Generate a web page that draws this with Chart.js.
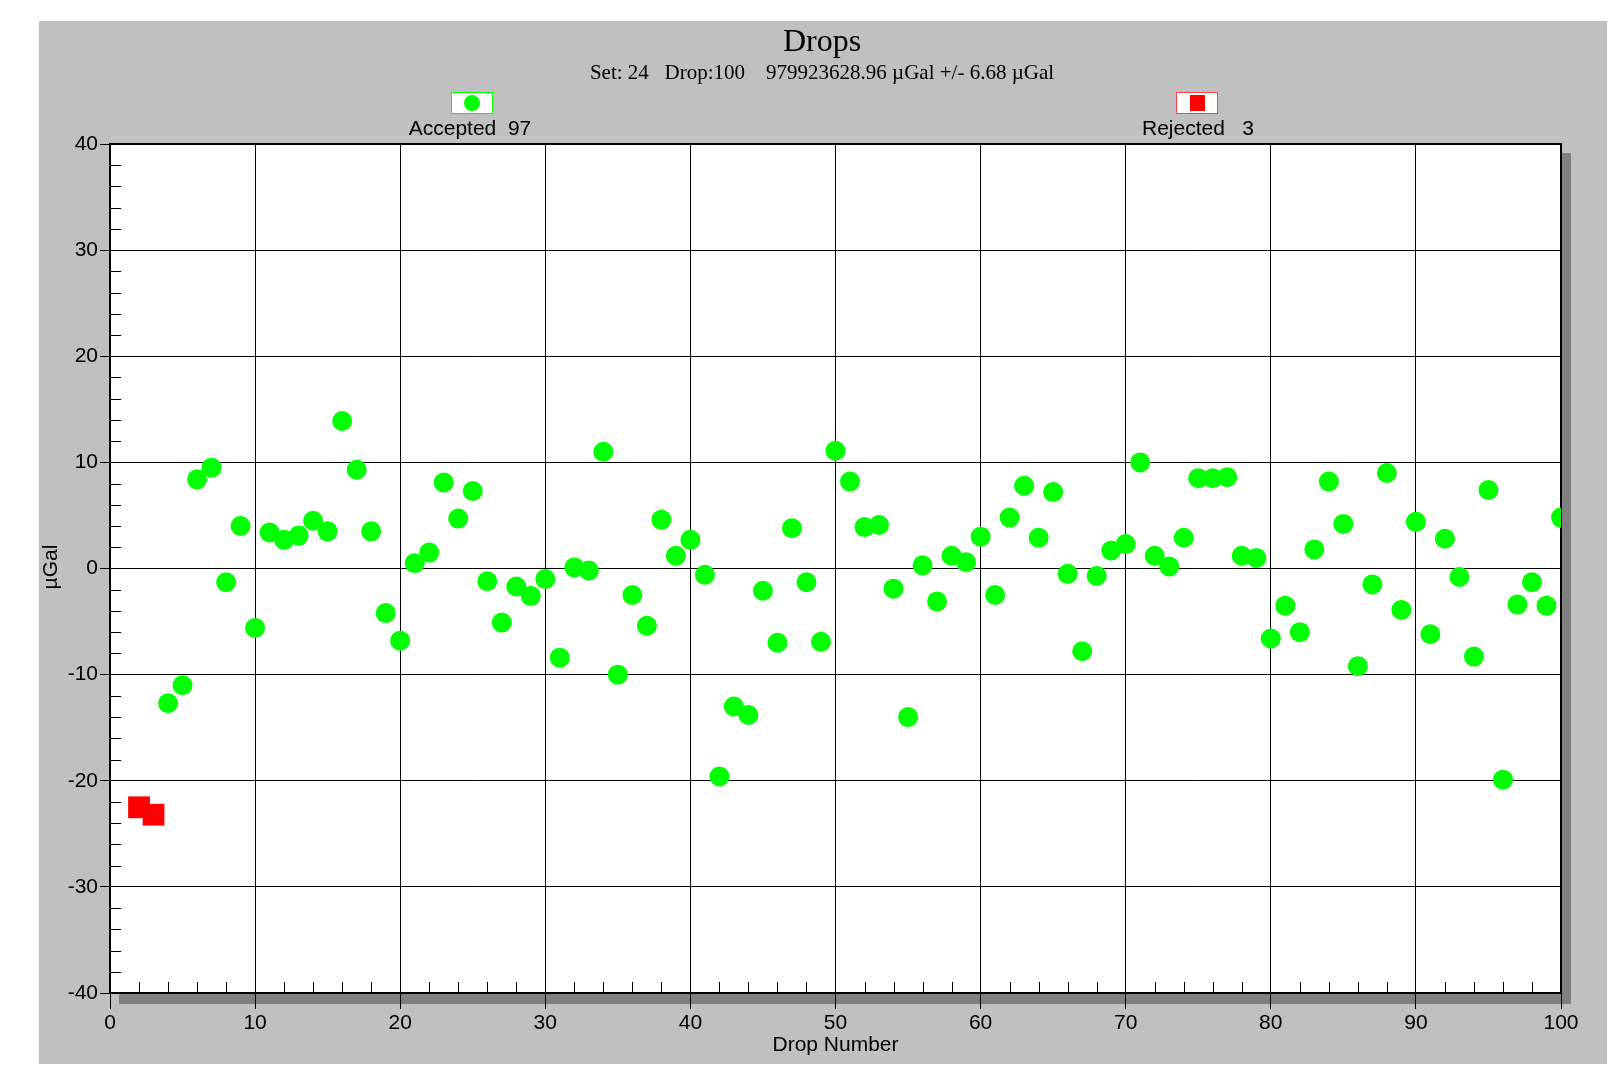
<!DOCTYPE html>
<html><head><meta charset="utf-8">
<script src="https://cdn.jsdelivr.net/npm/chart.js@4/dist/chart.umd.min.js"></script>
<style>html,body{margin:0;padding:0;background:#fff;overflow:hidden}canvas{display:block}</style>
</head><body>
<canvas id="c" width="1609" height="1070"></canvas>
<script>
const chartTitle = "Drops";
const chartSubtitle = "Set: 24   Drop:100    979923628.96 \u00B5Gal +/- 6.68 \u00B5Gal";
const xAxisTitle = "Drop Number";
const yAxisTitle = "\u00B5Gal";
const acceptedLabel = "Accepted  97";
const rejectedLabel = "Rejected   3";

const acceptedDrops = [4,5,6,7,8,9,10,11,12,13,14,15,16,17,18,19,20,21,22,23,24,25,26,27,28,29,30,
  31,32,33,34,35,36,37,38,39,40,41,42,43,44,45,46,47,48,49,50,51,52,53,54,55,56,57,58,59,60,
  61,62,63,64,65,66,67,68,69,70,71,72,73,74,75,76,77,78,79,80,81,82,83,84,85,86,87,88,89,90,
  91,92,93,94,95,96,97,98,99,100];
const acceptedValues = [-12.7,-11.0,8.4,9.5,-1.3,4.0,-5.6,3.4,2.7,3.1,4.5,3.5,13.9,9.3,3.5,-4.2,-6.8,0.5,1.5,8.1,4.7,7.3,-1.2,-5.1,-1.7,-2.6,-1.0,
  -8.4,0.1,-0.2,11.0,-10.0,-2.5,-5.4,4.6,1.2,2.7,-0.6,-19.6,-13.0,-13.8,-2.1,-7.0,3.8,-1.3,-6.9,11.1,8.2,3.9,4.1,-1.9,-14.0,0.3,-3.1,1.2,0.6,3.0,
  -2.5,4.8,7.8,2.9,7.2,-0.5,-7.8,-0.7,1.7,2.3,10.0,1.2,0.2,2.9,8.5,8.5,8.6,1.2,1.0,-6.6,-3.5,-6.0,1.8,8.2,4.2,-9.2,-1.5,9.0,-3.9,4.4,
  -6.2,2.8,-0.8,-8.3,7.4,-19.9,-3.4,-1.3,-3.5,4.8];
const rejectedDrops = [2,3];
const rejectedValues = [-22.5,-23.2];

const xTicks = [0,10,20,30,40,50,60,70,80,90,100];
const yTicks = [-40,-30,-20,-10,0,10,20,30,40];
const xMinorStep = 2;
const yMinorStep = 2;

const SANS = "'Liberation Sans', Arial, sans-serif";
const SERIF = "'Liberation Serif', 'Times New Roman', serif";

const chromePlugin = {
  id: 'chrome',
  beforeDraw(chart) {
    const ctx = chart.ctx, a = chart.chartArea;
    ctx.save();
    ctx.fillStyle = '#ffffff';
    ctx.fillRect(0, 0, chart.width, chart.height);
    ctx.fillStyle = '#c0c0c0';
    ctx.fillRect(39, 21, 1568, 1043);
    ctx.fillStyle = '#808080';
    ctx.fillRect(a.left + 9, a.top + 9, a.right - a.left + 1, a.bottom - a.top + 2);
    ctx.fillStyle = '#ffffff';
    ctx.fillRect(a.left, a.top, a.right - a.left, a.bottom - a.top);
    ctx.restore();
  },
  beforeDatasetsDraw(chart) {
    const ctx = chart.ctx, a = chart.chartArea;
    const xs = chart.scales.x, ys = chart.scales.y;
    ctx.save();
    ctx.strokeStyle = '#000';
    ctx.lineWidth = 1;
    ctx.beginPath();
    for (let v = xs.min + xMinorStep; v < xs.max; v += xMinorStep) {
      if (xTicks.includes(v)) continue;
      const px = Math.round(xs.getPixelForValue(v)) + 0.5;
      ctx.moveTo(px, a.bottom);
      ctx.lineTo(px, a.bottom - 11);
    }
    for (let v = ys.min + yMinorStep; v < ys.max; v += yMinorStep) {
      if (yTicks.includes(v)) continue;
      const py = Math.round(ys.getPixelForValue(v)) + 0.5;
      ctx.moveTo(a.left, py);
      ctx.lineTo(a.left + 11, py);
    }
    ctx.stroke();
    ctx.lineWidth = 2;
    ctx.strokeRect(a.left, a.top, a.right - a.left, a.bottom - a.top);
    ctx.restore();
  },
  afterDraw(chart) {
    const ctx = chart.ctx, a = chart.chartArea;
    ctx.save();
    ctx.fillStyle = '#000';
    ctx.textAlign = 'center';
    ctx.textBaseline = 'alphabetic';
    ctx.font = '32px ' + SERIF;
    ctx.fillText(chartTitle, 822, 51);
    ctx.font = '21px ' + SERIF;
    ctx.fillText(chartSubtitle, 822, 79);

    // legend: accepted
    ctx.fillStyle = '#fff';
    ctx.fillRect(451, 92, 42, 22);
    ctx.strokeStyle = '#00ff00';
    ctx.lineWidth = 1;
    ctx.strokeRect(451.5, 92.5, 41, 21);
    ctx.fillStyle = '#00ff00';
    ctx.beginPath();
    ctx.arc(472, 103, 8, 0, Math.PI * 2);
    ctx.fill();
    // legend: rejected
    ctx.fillStyle = '#fff';
    ctx.fillRect(1176, 92, 42, 22);
    ctx.strokeStyle = '#ff4040';
    ctx.strokeRect(1176.5, 92.5, 41, 21);
    ctx.fillStyle = '#ff0000';
    ctx.fillRect(1190, 95, 15, 16);

    ctx.fillStyle = '#000';
    ctx.font = '21px ' + SANS;
    ctx.fillText(acceptedLabel, 470, 135);
    ctx.fillText(rejectedLabel, 1198, 135);

    ctx.font = '21px ' + SANS;
    ctx.textBaseline = 'middle';
    ctx.fillText(xAxisTitle, (a.left + a.right) / 2, 1045);
    ctx.translate(51, 567);
    ctx.rotate(-Math.PI / 2);
    ctx.fillText(yAxisTitle, 0, 0);
    ctx.restore();
  }
};

const ctx = document.getElementById('c').getContext('2d');
new Chart(ctx, {
  type: 'scatter',
  data: {
    datasets: [
      {
        label: 'Accepted',
        data: acceptedDrops.map((x, i) => ({ x: x, y: acceptedValues[i] })),
        pointStyle: 'circle',
        pointRadius: 10,
        pointHoverRadius: 10,
        backgroundColor: '#00ff00',
        borderColor: '#00ff00',
        borderWidth: 0,
        clip: 0
      },
      {
        label: 'Rejected',
        data: rejectedDrops.map((x, i) => ({ x: x, y: rejectedValues[i] })),
        pointStyle: 'rect',
        pointRadius: 15.4,
        pointHoverRadius: 15.4,
        backgroundColor: '#ff0000',
        borderColor: '#ff0000',
        borderWidth: 0,
        clip: 0
      }
    ]
  },
  options: {
    responsive: false,
    animation: false,
    devicePixelRatio: 1,
    events: [],
    layout: { padding: { left: 0, top: 144, right: 48, bottom: 0 } },
    plugins: { legend: { display: false }, tooltip: { enabled: false }, title: { display: false } },
    scales: {
      x: {
        type: 'linear', position: 'bottom', min: 0, max: 100,
        afterFit: s => { s.height = 77; },
        afterBuildTicks: s => { s.ticks = xTicks.map(v => ({ value: v })); },
        ticks: { font: { family: SANS, size: 21 }, color: '#000', padding: 2, maxRotation: 0, autoSkip: false },
        grid: { color: '#000', lineWidth: 1, tickLength: 16, drawTicks: true },
        border: { display: false }
      },
      y: {
        type: 'linear', position: 'left', min: -40, max: 40,
        afterFit: s => { s.width = 110; },
        afterBuildTicks: s => { s.ticks = yTicks.map(v => ({ value: v })); },
        ticks: { font: { family: SANS, size: 21 }, color: '#000', padding: 2, autoSkip: false },
        grid: { color: '#000', lineWidth: 1, tickLength: 10, drawTicks: true },
        border: { display: false }
      }
    }
  },
  plugins: [chromePlugin]
});
</script>
</body></html>
